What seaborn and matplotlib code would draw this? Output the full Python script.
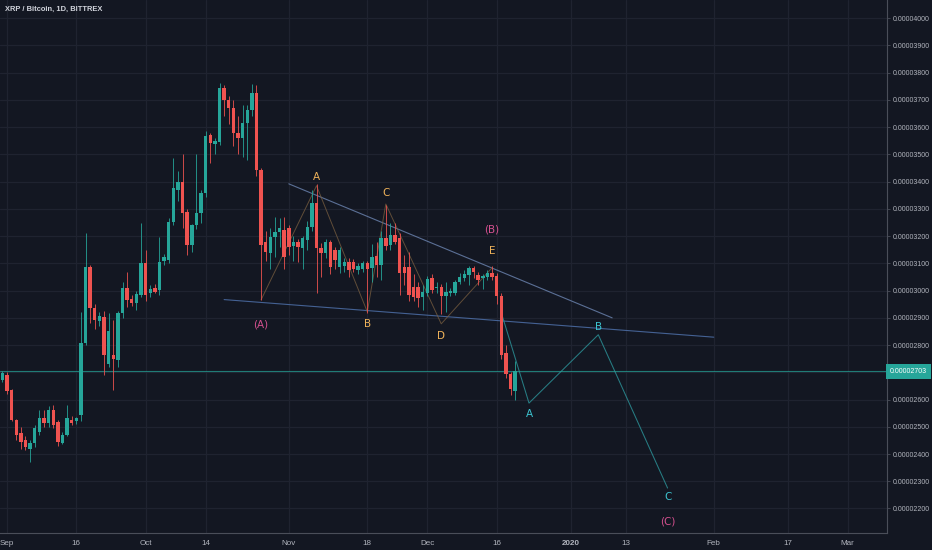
import numpy as np
import pandas as pd
import matplotlib
matplotlib.use("Agg")
import matplotlib.pyplot as plt
import seaborn as sns

# ---------------- data (prices in 1e-8 BTC) ----------------
start_date = "2019-08-31"
opens = [2673, 2691, 2636, 2526, 2478, 2453, 2417, 2442, 2482, 2534,
         2515, 2563, 2519, 2442, 2471, 2525, 2520, 2545, 2808, 3087,
         2937, 2889, 2904, 2730, 2762, 2746, 2918, 3010, 2970, 2955,
         2985, 3102, 2990, 3010, 3002, 3110, 3112, 3253, 3370, 3400,
         3290, 3168, 3241, 3285, 3359, 3572, 3540, 3547, 3744, 3700,
         3670, 3578, 3560, 3615, 3663, 3725, 3443, 3180, 3139, 3197,
         3215, 3223, 3230, 3165, 3180, 3157, 3186, 3234, 3322, 3157,
         3139, 3179, 3150, 3087, 3090, 3105, 3105, 3076, 3080, 3100,
         3083, 3127, 3094, 3193, 3168, 3204, 3193, 3087, 3087, 3014,
         3014, 2977, 2992, 3047, 3010, 3014, 2980, 2990, 2992, 3032,
         3047, 3058, 3083, 3058, 3045, 3050, 3065, 3054, 2981, 2772,
         2692, 2630]
highs = [2705, 2700, 2640, 2530, 2500, 2465, 2450, 2505, 2560, 2560,
         2575, 2580, 2525, 2480, 2580, 2540, 2535, 2920, 3212, 3095,
         2950, 2920, 2925, 2918, 2893, 2925, 3030, 3070, 2985, 3000,
         3250, 3150, 3020, 3025, 3195, 3135, 3265, 3487, 3440, 3500,
         3300, 3245, 3500, 3370, 3585, 3580, 3560, 3762, 3755, 3715,
         3700, 3640, 3680, 3680, 3760, 3755, 3450, 3220, 3230, 3270,
         3265, 3270, 3240, 3200, 3190, 3200, 3255, 3370, 3390, 3175,
         3190, 3185, 3160, 3160, 3120, 3120, 3115, 3100, 3110, 3110,
         3170, 3180, 3220, 3314, 3250, 3250, 3210, 3130, 3140, 3060,
         3030, 3020, 3055, 3060, 3030, 3025, 3030, 3010, 3040, 3065,
         3075, 3090, 3090, 3068, 3060, 3075, 3090, 3065, 2990, 2800,
         2700, 2740]
lows = [2665, 2620, 2520, 2453, 2420, 2415, 2371, 2425, 2470, 2500,
        2500, 2495, 2430, 2435, 2465, 2505, 2510, 2520, 2800, 2880,
        2860, 2870, 2690, 2718, 2636, 2720, 2900, 2940, 2945, 2930,
        2975, 2960, 2975, 2990, 2985, 3095, 3100, 3240, 3330, 3230,
        3130, 3140, 3225, 3250, 3345, 3470, 3500, 3535, 3640, 3612,
        3530, 3500, 3490, 3480, 3640, 3420, 2966, 3110, 3080, 3125,
        3160, 3080, 3130, 3110, 3105, 3080, 3150, 3220, 2990, 3050,
        3120, 3060, 3080, 3065, 3070, 3050, 3070, 3060, 3070, 2918,
        3030, 3050, 3040, 3150, 3150, 3170, 2985, 3020, 2960, 2960,
        2940, 2930, 2980, 2990, 2990, 2915, 2920, 2980, 2985, 3025,
        3035, 3020, 3045, 3020, 3005, 3040, 3040, 2950, 2750, 2680,
        2615, 2600]
closes = [2698, 2630, 2526, 2471, 2445, 2424, 2442, 2497, 2534, 2515,
          2563, 2508, 2445, 2471, 2534, 2514, 2533, 2808, 3087, 2937,
          2893, 2907, 2764, 2850, 2750, 2918, 3010, 2966, 2955, 2988,
          3102, 2985, 3005, 2995, 3105, 3125, 3253, 3377, 3400, 3285,
          3168, 3241, 3285, 3359, 3566, 3542, 3548, 3744, 3700, 3670,
          3578, 3560, 3615, 3663, 3725, 3443, 3168, 3140, 3197, 3215,
          3230, 3124, 3161, 3179, 3160, 3194, 3234, 3322, 3157, 3139,
          3179, 3087, 3113, 3150, 3105, 3076, 3080, 3090, 3100, 3080,
          3124, 3094, 3193, 3164, 3204, 3179, 3065, 3065, 2985, 2977,
          2974, 2995, 3043, 3003, 3015, 2981, 2995, 2998, 3032, 3050,
          3061, 3083, 3069, 3040, 3052, 3065, 3050, 2981, 2765, 2692,
          2637, 2703]
last_price = 2703

# x tick labels
tick_dates = ["2019-09-01", "2019-09-16", "2019-10-01", "2019-10-14", "2019-11-01",
              "2019-11-18", "2019-12-01", "2019-12-16", "2020-01-01", "2020-01-13",
              "2020-02-01", "2020-02-17", "2020-03-01"]
tick_labels = ["Sep", "16", "Oct", "14", "Nov", "18", "Dec", "16", "2020", "13",
               "Feb", "17", "Mar"]
price_ticks = list(range(2200, 4001, 100))
hidden_price_label = 2700   # covered by the last-price tag

# drawings (date, price)
upper_line_dates = ["2019-11-01", "2020-01-10"]
upper_line_prices = [3392, 2900]
lower_line_dates = ["2019-10-18", "2020-02-01"]
lower_line_prices = [2967, 2829]
wave_dates = ["2019-10-26", "2019-11-07", "2019-11-18", "2019-11-22", "2019-12-04", "2019-12-15"]
wave_prices = [2966, 3385, 2922, 3318, 2878, 3084]
proj_dates = ["2019-12-17", "2019-12-23", "2020-01-07", "2020-01-22"]
proj_prices = [2919, 2587, 2838, 2275]

wave_labels = ["(A)", "A", "B", "C", "D", "E", "(B)", "A", "B", "C", "(C)"]
wave_label_dates = ["2019-10-26", "2019-11-07", "2019-11-18", "2019-11-22", "2019-12-04",
                    "2019-12-15", "2019-12-15", "2019-12-23", "2020-01-07", "2020-01-22",
                    "2020-01-22"]
wave_label_prices = [2874, 3418, 2878, 3359, 2834, 3146, 3223, 2548, 2867, 2243, 2152]
wave_label_kinds = ["major", "minor", "minor", "minor", "minor", "minor", "major",
                    "proj", "proj", "proj", "major"]

# ---------------- styling ----------------
BG = "#131722"
GRID = "#1f2330"
UP = "#26a69a"
DOWN = "#ef5350"
TXT = "#b2b5be"
KIND_COL = {"major": "#d4508f", "minor": "#f0b35a", "proj": "#3cc4d0"}
SMALLFONT = ["Liberation Sans Narrow", "Liberation Sans", "DejaVu Sans"]

sns.set_theme(style="dark")
plt.rcParams["font.family"] = ["DejaVu Sans"]

ref = pd.Timestamp("2019-09-01")
def dnum(s):
    return (pd.to_datetime(pd.Series(s)) - ref).dt.days.to_numpy().astype(float)

n = len(opens)
dates = pd.date_range(start_date, periods=n, freq="D")
df = pd.DataFrame({"date": dates, "open": opens, "high": highs, "low": lows, "close": closes})
df["x"] = (df["date"] - ref).dt.days.astype(float)
df["up"] = df["close"] >= df["open"]

fig = plt.figure(figsize=(9.32, 5.5), dpi=100, facecolor=BG)
ax = fig.add_axes([0.0, 17/550, 887/932, 533/550])
ax.set_facecolor(BG)

# grid
ax.set_xticks(dnum(tick_dates))
ax.set_yticks(price_ticks)
ax.grid(True, color=GRID, lw=0.9)
ax.set_axisbelow(True)

# trend lines and wave drawings via seaborn
sns.lineplot(x=dnum(upper_line_dates), y=upper_line_prices, ax=ax, color="#6d86b3",
             lw=0.8, alpha=0.8)
sns.lineplot(x=dnum(lower_line_dates), y=lower_line_prices, ax=ax, color="#4d6fa8",
             lw=0.8, alpha=0.85)
sns.lineplot(x=dnum(wave_dates), y=wave_prices, ax=ax, color="#7a5f40", lw=0.7,
             alpha=0.75, sort=False)
sns.lineplot(x=dnum(proj_dates), y=proj_prices, ax=ax, color="#2b8f95", lw=0.75,
             alpha=0.85, sort=False)

# current price line
ax.axhline(last_price, color="#26a69a", lw=0.8, alpha=0.7)

# candles
colors = np.where(df["up"], UP, DOWN)
ax.vlines(df["x"], df["low"], df["high"], colors=colors, lw=0.7, alpha=0.85, zorder=3)
body_bottom = np.minimum(df["open"], df["close"])
body_h = np.maximum(np.abs(df["close"] - df["open"]), 3)
ax.bar(df["x"], body_h, bottom=body_bottom, width=0.74, color=colors, lw=0, zorder=4)

# wave labels
for lab, d, p, k in zip(wave_labels, dnum(wave_label_dates), wave_label_prices, wave_label_kinds):
    ax.text(d, p, lab, color=KIND_COL[k], fontsize=7.5, ha="center", va="center", zorder=6)

# axes limits
ax.set_xlim(-1.52, 190.5)
ax.set_ylim(2110, 4067)

# ticks/labels
ax.yaxis.tick_right()
ax.set_yticklabels(["" if v == hidden_price_label else f"{v*1e-8:.8f}" for v in price_ticks])
ax.set_xticklabels(tick_labels)
ax.tick_params(axis="y", colors="#4a4e59", labelcolor=TXT, length=2.5, width=0.6,
               labelsize=5.0, pad=1.5, direction="out")
ax.tick_params(axis="x", colors="#4a4e59", labelcolor=TXT, length=3, width=0.6,
               labelsize=5.8, pad=2, direction="out")
for lbl in ax.get_xticklabels() + ax.get_yticklabels():
    lbl.set_family(SMALLFONT)
for lbl in ax.get_xticklabels():
    if lbl.get_text() == "2020":
        lbl.set_fontweight("bold")

for side in ["top", "left"]:
    ax.spines[side].set_visible(False)
for side in ["right", "bottom"]:
    ax.spines[side].set_color("#4a4e59")
    ax.spines[side].set_linewidth(0.8)

# last price tag
ax.text(1.0035, last_price, f"{last_price*1e-8:.8f}", transform=ax.get_yaxis_transform(),
        ha="left", va="center", fontsize=5.0, color="white", family=SMALLFONT,
        bbox=dict(boxstyle="square,pad=0.6", fc="#26a69a", ec="none"), clip_on=False, zorder=10)

# title
fig.text(5/932, 1 - 9/550, "XRP / Bitcoin, 1D, BITTREX", color="#d1d4dc", fontsize=5.4,
         fontweight="bold", ha="left", va="center", family=SMALLFONT)

fig.savefig("out.png", dpi=100, facecolor=BG)
